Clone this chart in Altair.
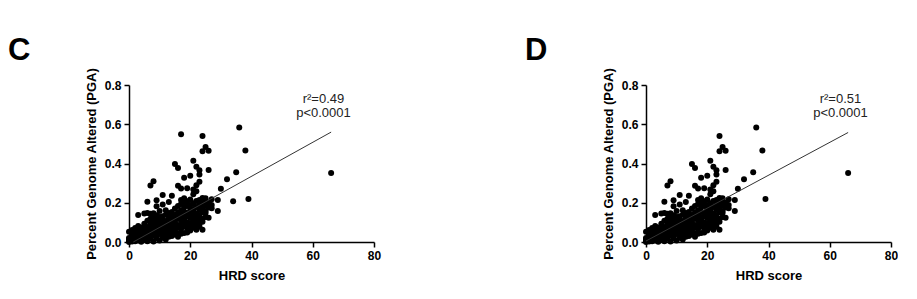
import altair as alt
import pandas as pd

FONT = "Liberation Sans"

# HRD score / PGA pairs present in both panels (HRD scores are integers)
hrd_shared = [
    0, 0, 0, 0, 0,
    1, 1, 1, 1, 1,
    2, 2, 2, 2, 2, 2,
    3, 3, 3, 3, 3, 3, 3,
    4, 4, 4, 4, 4, 4, 4,
    5, 5, 5, 5, 5, 5, 5, 5,
    6, 6, 6, 6, 6, 6, 6, 6, 6,
    7, 7, 7, 7, 7, 7, 7, 7, 7, 7,
    8, 8, 8, 8, 8, 8, 8, 8, 8, 8,
    9, 9, 9, 9, 9, 9, 9, 9, 9, 9,
    10, 10, 10, 10, 10, 10, 10, 10, 10,
    11, 11, 11, 11, 11, 11, 11, 11, 11,
    12, 12, 12, 12, 12, 12, 12, 12, 12,
    13, 13, 13, 13, 13, 13, 13, 13, 13,
    14, 14, 14, 14, 14, 14, 14, 14, 14, 14,
    15, 15, 15, 15, 15, 15, 15, 15, 15, 15,
    16, 16, 16, 16, 16, 16, 16, 16, 16, 16,
    17, 17, 17, 17, 17, 17, 17, 17, 17, 17,
    18, 18, 18, 18, 18, 18, 18, 18, 18, 18,
    19, 19, 19, 19, 19, 19, 19, 19, 19,
    20, 20, 20, 20, 20, 20, 20, 20, 20,
    21, 21, 21, 21, 21, 21, 21, 21, 21, 21,
    22, 22, 22, 22, 22, 22, 22, 22, 22, 22,
    23, 23, 23, 23, 23, 23, 23, 23, 23, 23, 23,
    24, 24, 24, 24, 24, 24, 24, 24, 24,
    25, 25, 25, 25, 25, 25, 25,
    26, 26, 26, 26, 26, 26,
    27, 27, 27,
    29, 29,
    30, 32, 35, 36, 38, 39, 66,
]
pga_shared = [
    0.0, 0.006, 0.021, 0.052, 0.013,
    0.002, 0.017, 0.028, 0.044, 0.061,
    0.004, 0.011, 0.036, 0.057, 0.024, 0.071,
    0.008, 0.019, 0.046, 0.063, 0.082, 0.138, 0.031,
    0.001, 0.027, 0.039, 0.054, 0.074, 0.061, 0.012,
    0.014, 0.022, 0.043, 0.067, 0.058, 0.093, 0.145, 0.035,
    0.004, 0.028, 0.041, 0.049, 0.077, 0.062, 0.108, 0.148, 0.205,
    0.016, 0.024, 0.053, 0.068, 0.083, 0.097, 0.118, 0.288, 0.144, 0.039,
    0.002, 0.033, 0.047, 0.061, 0.072, 0.091, 0.104, 0.123, 0.31, 0.146,
    0.019, 0.029, 0.056, 0.074, 0.087, 0.064, 0.109, 0.136, 0.213, 0.182,
    0.008, 0.041, 0.052, 0.079, 0.094, 0.071, 0.127, 0.103, 0.158,
    0.022, 0.046, 0.066, 0.081, 0.099, 0.112, 0.131, 0.24, 0.191,
    0.013, 0.038, 0.059, 0.074, 0.092, 0.107, 0.088, 0.139, 0.162,
    0.027, 0.051, 0.069, 0.085, 0.117, 0.098, 0.133, 0.148, 0.204,
    0.031, 0.048, 0.063, 0.079, 0.096, 0.114, 0.126, 0.141, 0.236, 0.153,
    0.038, 0.057, 0.076, 0.091, 0.103, 0.122, 0.137, 0.128, 0.398, 0.171,
    0.027, 0.044, 0.073, 0.087, 0.118, 0.129, 0.152, 0.377, 0.287, 0.183,
    0.042, 0.067, 0.083, 0.109, 0.121, 0.136, 0.162, 0.273, 0.193, 0.214,
    0.046, 0.078, 0.094, 0.114, 0.127, 0.156, 0.178, 0.327, 0.201, 0.223,
    0.049, 0.072, 0.089, 0.101, 0.131, 0.148, 0.274, 0.183, 0.208,
    0.058, 0.084, 0.097, 0.124, 0.143, 0.163, 0.338, 0.188, 0.217,
    0.073, 0.088, 0.112, 0.134, 0.154, 0.168, 0.414, 0.198, 0.243, 0.268,
    0.063, 0.081, 0.107, 0.122, 0.147, 0.178, 0.383, 0.289, 0.209, 0.258,
    0.078, 0.104, 0.117, 0.138, 0.167, 0.187, 0.366, 0.344, 0.214, 0.307, 0.092,
    0.062, 0.118, 0.152, 0.177, 0.198, 0.54, 0.462, 0.224, 0.103,
    0.127, 0.158, 0.186, 0.207, 0.484, 0.148, 0.223,
    0.123, 0.176, 0.194, 0.465, 0.367, 0.201,
    0.188, 0.218, 0.172,
    0.214, 0.158,
    0.271, 0.32, 0.356, 0.583, 0.466, 0.219, 0.352,
]

# points that appear only in panel C
hrd_c_only = [17, 34]
pga_c_only = [0.549, 0.208]

# linear fits (end points over the HRD range)
fit_hrd_c = [1.4, 66]
fit_pga_c = [0.0, 0.56]
fit_hrd_d = [0.0, 66]
fit_pga_d = [0.005, 0.558]

r2_c = "r\u00b2=0.49"
r2_d = "r\u00b2=0.51"
p_text = "p<0.0001"

x_ticks = [0, 20, 40, 60, 80]
y_ticks = [0.0, 0.2, 0.4, 0.6, 0.8]

W, H = 245, 157


def panel(letter, hrd, pga, fit_x, fit_y, r2):
    pts = pd.DataFrame({"hrd": hrd, "pga": pga})
    fit = pd.DataFrame({"hrd": fit_x, "pga": fit_y})
    xs = alt.Scale(domain=[0, 80], nice=False, zero=True)
    ys = alt.Scale(domain=[0, 0.8], nice=False, zero=True)

    x_axis = alt.Axis(values=x_ticks, title="HRD score", format="d",
                      labelPadding=3, titlePadding=8,
                      labelOverlap=False, labelFlush=False)
    y_axis = alt.Axis(values=y_ticks, title="Percent Genome Altered (PGA)",
                      format=".1f", labelPadding=3, titlePadding=6,
                      labelOverlap=False, labelFlush=False)

    dots = alt.Chart(pts).mark_circle(size=36, color="black", opacity=1).encode(
        x=alt.X("hrd:Q", scale=xs, axis=x_axis),
        y=alt.Y("pga:Q", scale=ys, axis=y_axis),
    )
    line = alt.Chart(fit).mark_line(color="#333333", strokeWidth=1).encode(
        x=alt.X("hrd:Q", scale=xs, axis=x_axis),
        y=alt.Y("pga:Q", scale=ys, axis=y_axis),
    )
    # statistics block in the upper right of the plot area
    note_x = W * 63.5 / 80
    note1 = alt.Chart(pd.DataFrame({"label": [r2]})).mark_text(
        font=FONT, fontSize=13, color="#222222", align="center", baseline="middle"
    ).encode(x=alt.value(note_x), y=alt.value(14), text="label:N")
    note2 = alt.Chart(pd.DataFrame({"label": [p_text]})).mark_text(
        font=FONT, fontSize=13, color="#222222", align="center", baseline="middle"
    ).encode(x=alt.value(note_x), y=alt.value(28), text="label:N")
    tag = alt.Chart(pd.DataFrame({"label": [letter]})).mark_text(
        font=FONT, fontSize=31, fontWeight="bold", color="black",
        align="left", baseline="alphabetic"
    ).encode(x=alt.value(-121), y=alt.value(-25), text="label:N")

    return alt.layer(dots, line, note1, note2, tag).properties(width=W, height=H)


chart_c = panel("C", hrd_shared + hrd_c_only, pga_shared + pga_c_only,
                fit_hrd_c, fit_pga_c, r2_c)
chart_d = panel("D", hrd_shared, pga_shared, fit_hrd_d, fit_pga_d, r2_d)

chart = alt.hconcat(chart_c, chart_d, spacing=144).properties(
    padding={"left": 8, "top": 35, "right": 0, "bottom": 0}
).configure_view(stroke=None).configure_axis(
    grid=False,
    domainColor="black",
    domainWidth=1.5,
    tickColor="black",
    tickWidth=1.5,
    tickSize=5,
    labelFont=FONT,
    labelFontSize=12,
    labelFontWeight="bold",
    labelColor="black",
    labelOverlap=False,
    titleFont=FONT,
    titleFontSize=13,
    titleFontWeight="bold",
    titleColor="black",
)

chart.save("out.html", embed_options={"renderer": "svg", "actions": False})
